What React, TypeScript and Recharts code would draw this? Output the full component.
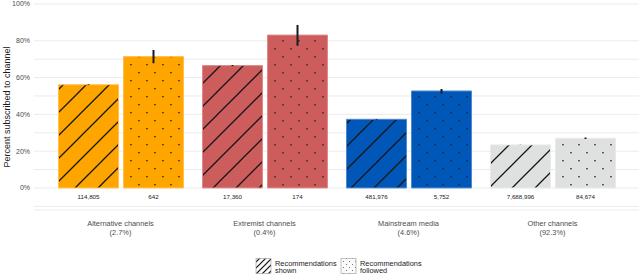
import React from 'react';
import { BarChart, Bar, XAxis, YAxis, CartesianGrid, Cell, ErrorBar, LabelList, Legend } from 'recharts';

const categories = ['Alternative channels', 'Extremist channels', 'Mainstream media', 'Other channels'];
const shares = ['(2.7%)', '(0.4%)', '(4.6%)', '(92.3%)'];
const shownPct = [0.561, 0.665, 0.373, 0.234];
const followedPct = [0.714, 0.831, 0.527, 0.27];
const shownErr = [[0.002, 0.002], [0.003, 0.003], [0.002, 0.002], [0.0005, 0.0005]];
const followedErr = [[0.036, 0.036], [0.058, 0.055], [0.014, 0.011], [0.004, 0.004]];
const shownN = ['114,805', '17,360', '481,976', '7,688,996'];
const followedN = ['642', '174', '5,752', '84,674'];
const yTicks = [-0.1, 0, 0.1, 0.2, 0.3, 0.4, 0.5, 0.6, 0.7, 0.8, 0.9, 1.0];
const yLabelTicks = [0, 0.2, 0.4, 0.6, 0.8, 1.0];
const legendLabels = [['Recommendations', 'shown'], ['Recommendations', 'followed']];

const fills = ['#FFA500', '#CD5C5C', '#0057B8', '#DFE0E0'];
const edges = ['#FFC04D', '#DC8A8A', '#4C89CD', '#E9EAEA'];

const data = categories.map((c, i) => ({
  cat: c,
  share: shares[i],
  shown: shownPct[i],
  followed: followedPct[i],
  shownErr: shownErr[i],
  followedErr: followedErr[i],
  shownN: shownN[i],
  followedN: followedN[i],
}));

const FONT = '"Liberation Sans", Arial, Helvetica, sans-serif';

const HatchPattern = ({ id, bg }: { id: string; bg: string }) => (
  <pattern id={id} patternUnits="userSpaceOnUse" width={23} height={23} x={10} y={0}>
    <rect x={0} y={0} width={23} height={23} fill={bg} />
    <path d="M0,23 L23,0 M-3,3 L3,-3 M20,26 L26,20" stroke="#151515" strokeWidth={1.3} />
  </pattern>
);

const DotPattern = ({ id, bg }: { id: string; bg: string }) => (
  <pattern id={id} patternUnits="userSpaceOnUse" width={16} height={16}>
    <rect x={0} y={0} width={16} height={16} fill={bg} />
    <rect x={2.3} y={0} width={1.4} height={1.4} fill="#222" />
    <rect x={10.3} y={8} width={1.4} height={1.4} fill="#222" />
  </pattern>
);

const CountLabel = (props: any) => {
  const { x, y, width, height, value } = props;
  const bottom = Number(y) + Number(height);
  return (
    <text x={Number(x) + Number(width) / 2} y={bottom + 11} textAnchor="middle" fontSize={6.2} fill="#1a1a1a" fontFamily={FONT}>
      {value}
    </text>
  );
};

const CatTick = (props: any) => {
  const { x, payload, index } = props;
  return (
    <g>
      <text x={x} y={226} textAnchor="middle" fontSize={7.4} fill="#4d4d4d" fontFamily={FONT}>
        {payload.value}
      </text>
      <text x={x} y={235} textAnchor="middle" fontSize={7.4} fill="#4d4d4d" fontFamily={FONT}>
        {shares[index]}
      </text>
    </g>
  );
};

const LegendContent = () => (
  <svg width={640} height={21} style={{ display: 'block' }}>
    <defs>
      <pattern id="lg-hatch" patternUnits="userSpaceOnUse" width={6} height={6}>
        <rect width={6} height={6} fill="#fafafa" />
        <path d="M0,6 L6,0 M-1,1 L1,-1 M5,7 L7,5" stroke="#111" strokeWidth={1.2} />
      </pattern>
      <pattern id="lg-dot" patternUnits="userSpaceOnUse" width={6} height={6}>
        <rect width={6} height={6} fill="#fafafa" />
        <rect x={1} y={1} width={0.9} height={0.9} fill="#555" />
        <rect x={4} y={4} width={0.9} height={0.9} fill="#555" />
      </pattern>
    </defs>
    {[0, 1].map((i) => {
      const bx = i === 0 ? 256 : 341;
      return (
        <g key={i}>
          <rect x={bx} y={4.5} width={15} height={15} fill={i === 0 ? 'url(#lg-hatch)' : 'url(#lg-dot)'} stroke="#9a9a9a" strokeWidth={0.6} />
          <text x={bx + 19} y={11.5} fontSize={7.4} fill="#1a1a1a" fontFamily={FONT}>
            {legendLabels[i][0]}
          </text>
          <text x={bx + 19} y={19} fontSize={7.4} fill="#1a1a1a" fontFamily={FONT}>
            {legendLabels[i][1]}
          </text>
        </g>
      );
    })}
  </svg>
);

const YLabel = () => (
  <text x={10} y={107} transform="rotate(-90 10 107)" textAnchor="middle" fontSize={9} fill="#1a1a1a" fontFamily={FONT}>
    Percent subscribed to channel
  </text>
);

export default function App() {
  return (
    <div style={{ position: 'absolute', left: 0, top: 0, width: 640, height: 275, background: '#fff' }}>
      <BarChart
        width={640}
        height={275}
        data={data}
        margin={{ top: 4, right: 1, left: 0, bottom: 0 }}
        barSize={60}
        barGap={5}
      >
        <defs>
          {fills.map((f, i) => (
            <HatchPattern key={'h' + i} id={'hatch-' + i} bg={f} />
          ))}
          {fills.map((f, i) => (
            <DotPattern key={'d' + i} id={'dot-' + i} bg={f} />
          ))}
        </defs>
        <CartesianGrid vertical={false} stroke="#ebebeb" strokeWidth={1} />
        <XAxis
          dataKey="cat"
          height={65}
          axisLine={false}
          tickLine={false}
          padding={{ left: 14.5, right: 14.5 }}
          tick={<CatTick />}
          interval={0}
        />
        <YAxis
          width={34}
          domain={[-0.12, 1.0]}
          ticks={yTicks}
          allowDataOverflow
          axisLine={false}
          tickLine={false}
          tickSize={0}
          tickMargin={4}
          tick={{ fontSize: 7, fill: '#4d4d4d', fontFamily: FONT }}
          tickFormatter={(v: number) => (yLabelTicks.some((t) => Math.abs(t - v) < 1e-9) ? `${Math.round(v * 100)}%` : '')}
          label={<YLabel />}
        />
        <Legend layout="vertical" align="center" verticalAlign="middle" wrapperStyle={{ left: 0, top: 254, width: 640 }} content={<LegendContent />} />
        <Bar dataKey="shown" name="Recommendations shown" isAnimationActive={false} strokeWidth={1}>
          {data.map((d, i) => (
            <Cell key={i} fill={`url(#hatch-${i})`} stroke={edges[i]} />
          ))}
          <ErrorBar dataKey="shownErr" width={0} stroke="#1a1a1a" strokeWidth={2} direction="y" />
          <LabelList dataKey="shownN" content={<CountLabel />} />
        </Bar>
        <Bar dataKey="followed" name="Recommendations followed" isAnimationActive={false} strokeWidth={1}>
          {data.map((d, i) => (
            <Cell key={i} fill={`url(#dot-${i})`} stroke={edges[i]} />
          ))}
          <ErrorBar dataKey="followedErr" width={0} stroke="#1a1a1a" strokeWidth={2} direction="y" />
          <LabelList dataKey="followedN" content={<CountLabel />} />
        </Bar>
      </BarChart>
    </div>
  );
}
